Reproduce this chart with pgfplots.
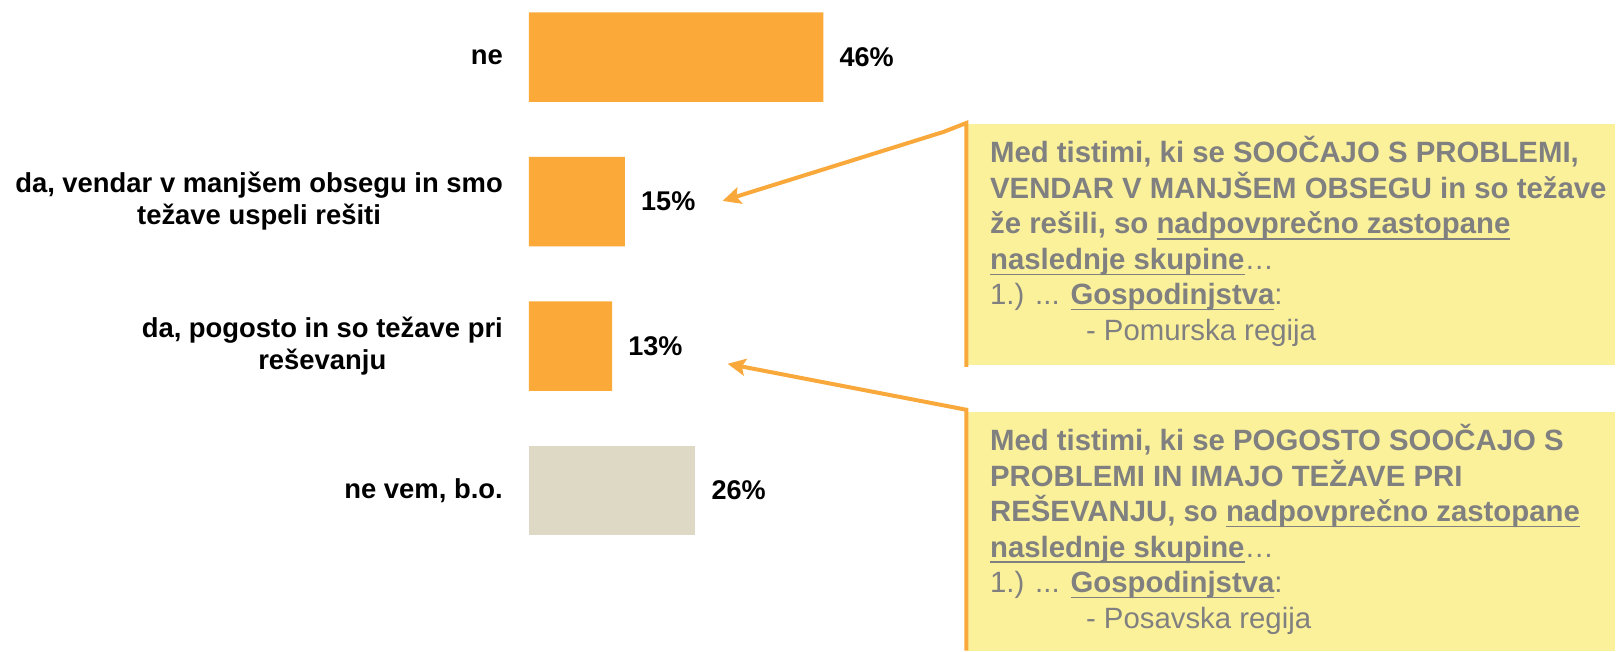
\documentclass[border=0pt]{standalone}
\usepackage{fontspec}
\setmainfont{Liberation Sans}
\usepackage{pgfplots}
\pgfplotsset{compat=1.18}
\usetikzlibrary{arrows.meta}

\definecolor{barorange}{HTML}{FBAA3A}
\definecolor{bargray}{HTML}{DED9C4}
\definecolor{boxyellow}{HTML}{FBF19B}
\definecolor{lineorange}{HTML}{F9A93B}
\definecolor{textgray}{HTML}{808080}

% underline that crosses the descenders, as in the original slide
\newcommand\ul[1]{\underline{\smash{#1}}}

\begin{document}
\begin{tikzpicture}
\path[use as bounding box] (0,0) rectangle (16.16cm,6.51cm);

\begin{axis}[
    anchor=north west, at={(5.29cm,6.6625cm)},
    scale only axis,
    x=0.064cm, y=1.445cm,
    xmin=0, xmax=50,
    ymin=-0.5, ymax=3.5,
    y dir=reverse,
    xbar, bar width=0.895cm,
    axis line style={draw=none},
    tick style={draw=none},
    xtick=\empty,
    ytick={0,1,2,3},
    yticklabels={
        ne,
        {da, vendar v manjšem obsegu in smo\\težave uspeli rešiti},
        {da, pogosto in so težave pri\\reševanju},
        {ne vem, b.o.}},
    yticklabel style={anchor=east, inner sep=0pt, xshift=-1.05mm, align=center,
        font=\bfseries\fontsize{7.8}{9.1}\selectfont},
    /pgf/number format/assume math mode=true,
    point meta=x,
    nodes near coords={\pgfmathprintnumber{\pgfplotspointmeta}\%},
    every node near coord/.append style={anchor=west, inner sep=0pt, xshift=1.55mm,
        font=\bfseries\fontsize{7.7}{9}\selectfont, text=black},
]
\addplot[fill=barorange, draw=none, bar shift=0pt] coordinates {(46,0) (15,1) (13,2)};
\addplot[fill=bargray, draw=none, bar shift=0pt] coordinates {(26,3)};
\end{axis}

% callouts, in pixel units of the original slide (origin top left)
\begin{scope}[x=0.01cm, y=-0.01cm, shift={(0,6.51cm)},
    callout/.style={anchor=base west, inner sep=0pt, text=textgray,
        font=\fontsize{8.35}{10}\selectfont},
    pointer/.style={draw=lineorange, line width=0.04cm, line join=miter,
        -{Stealth[length=1.8mm, width=1.7mm, inset=0.35mm]}}]
  \fill[boxyellow] (968,124) rectangle (1616,365);
  \fill[boxyellow] (968,412) rectangle (1616,651);
  \draw[pointer] (967,367) -- (967,123) -- (944,132) -- (723,201);
  \draw[pointer] (967,651) -- (967,410) -- (728,364);

  \node[callout] at (990,163) {\bfseries Med tistimi, ki se SOOČAJO S PROBLEMI,};
  \node[callout] at (990,198.5) {\bfseries VENDAR V MANJŠEM OBSEGU in so težave};
  \node[callout] at (990,234) {\bfseries že rešili, so \ul{nadpovprečno zastopane}};
  \node[callout] at (990,269.5) {{\bfseries\ul{naslednje skupine}}…};
  \node[callout] at (990,305) {1.) ... {\bfseries\ul{Gospodinjstva}}:};
  \node[callout] at (1086,340.5) {- Pomurska regija};

  \node[callout] at (990,451) {\bfseries Med tistimi, ki se POGOSTO SOOČAJO S};
  \node[callout] at (990,486.5) {\bfseries PROBLEMI IN IMAJO TEŽAVE PRI};
  \node[callout] at (990,522) {\bfseries REŠEVANJU, so \ul{nadpovprečno zastopane}};
  \node[callout] at (990,557.5) {{\bfseries\ul{naslednje skupine}}…};
  \node[callout] at (990,593) {1.) ... {\bfseries\ul{Gospodinjstva}}:};
  \node[callout] at (1086,628.5) {- Posavska regija};
\end{scope}
\end{tikzpicture}
\end{document}
